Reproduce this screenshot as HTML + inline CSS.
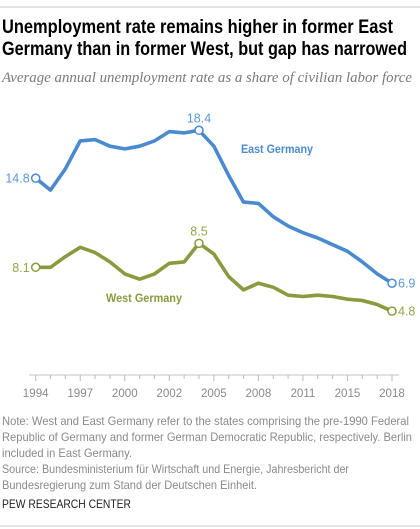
<!DOCTYPE html>
<html><head><meta charset="utf-8">
<style>
html,body{margin:0;padding:0;background:#fff;}
body{width:420px;height:529px;overflow:hidden;position:relative;font-family:"Liberation Sans",Arial,sans-serif;}
svg{position:absolute;left:0;top:0;}
</style></head>
<body>
<svg width="420" height="529" viewBox="0 0 420 529" id="chart">
  <line x1="0" y1="7" x2="420" y2="7" stroke="#c8c8c8" stroke-width="1"/>
  <text x="2" y="33" font-size="19" font-weight="bold" fill="#000" textLength="391" lengthAdjust="spacingAndGlyphs">Unemployment rate remains higher in former East</text>
  <text x="2" y="55" font-size="19" font-weight="bold" fill="#000" textLength="405" lengthAdjust="spacingAndGlyphs">Germany than in former West, but gap has narrowed</text>
  <text x="2" y="82" font-size="14.6" font-style="italic" fill="#7a7a7a" font-family="Liberation Serif, serif" textLength="410" lengthAdjust="spacingAndGlyphs">Average annual unemployment rate as a share of civilian labor force</text>
  <g id="axis"></g>
  <g id="series"></g>
  <text x="241" y="153" font-size="12" font-weight="bold" fill="#4a8bd0" textLength="72" lengthAdjust="spacingAndGlyphs">East Germany</text>
  <text x="106" y="302" font-size="12" font-weight="bold" fill="#8b9a3f" textLength="76" lengthAdjust="spacingAndGlyphs">West Germany</text>
  <g font-size="11.6" fill="#8a8a8a">
    <text x="2" y="425" textLength="407" lengthAdjust="spacingAndGlyphs">Note: West and East Germany refer to the states comprising the pre-1990 Federal</text>
    <text x="2" y="441" textLength="410" lengthAdjust="spacingAndGlyphs">Republic of Germany and former German Democratic Republic, respectively. Berlin</text>
    <text x="2" y="457" textLength="130" lengthAdjust="spacingAndGlyphs">included in East Germany.</text>
    <text x="2" y="473" textLength="347" lengthAdjust="spacingAndGlyphs">Source: Bundesministerium für Wirtschaft und Energie, Jahresbericht der</text>
    <text x="2" y="489" textLength="255" lengthAdjust="spacingAndGlyphs">Bundesregierung zum Stand der Deutschen Einheit.</text>
  </g>
  <text x="2" y="508" font-size="12" fill="#222" textLength="129" lengthAdjust="spacingAndGlyphs">PEW RESEARCH CENTER</text>
  <line x1="0" y1="526" x2="420" y2="526" stroke="#c8c8c8" stroke-width="1"/>
</svg>
<script>
const years = [1994,1995,1996,1997,1998,1999,2000,2001,2002,2003,2004,2005,2006,2007,2008,2009,2010,2011,2012,2013,2014,2015,2016,2017,2018];
const eastValues = [14.8,13.9,15.5,17.6,17.7,17.2,17.0,17.2,17.6,18.3,18.2,18.4,17.2,15.0,13.0,12.9,11.9,11.2,10.7,10.3,9.8,9.3,8.5,7.6,6.9];
const westValues = [8.1,8.1,8.9,9.6,9.2,8.5,7.6,7.2,7.6,8.4,8.5,9.9,9.1,7.4,6.4,6.9,6.6,6.0,5.9,6.0,5.9,5.7,5.6,5.3,4.8];
const tickLabels = ["1994","1997","2000","2002","2005","2008","2011","2015","2018"];
const eastLabels = ["14.8","18.4","6.9"];
const westLabels = ["8.1","8.5","4.8"];

const NS = "http://www.w3.org/2000/svg";
const x0 = 35.7, dx = (392 - 35.7) / (years.length - 1);
function xScale(i){ return x0 + i * dx; }
function yScale(v){ return 375 - v * 13.3; }
function mk(tag, attrs, parent){
  const e = document.createElementNS(NS, tag);
  for (const k in attrs) e.setAttribute(k, attrs[k]);
  parent.appendChild(e);
  return e;
}
const axis = document.getElementById('axis');
const axisLine = mk('line',{x1:29,y1:yScale(0),x2:399,y2:yScale(0),stroke:'#cfcfcf','stroke-width':1.3},axis);


years.forEach((y,i)=>{
  const major = i % 3 === 0;
  const t = mk('line',{x1:xScale(i),y1:yScale(0),x2:xScale(i),y2:yScale(0)+(major?6:4),stroke:'#bbb','stroke-width':1},axis);
  
  
  if (major){
    const lbl = mk('text',{x:xScale(i),y:yScale(0)+22,'text-anchor':'middle','font-size':11.6,fill:'#8a8a8a'},axis);
    lbl.textContent = tickLabels[i/3];
    
    
  }
});
const series = document.getElementById('series');
function drawSeries(vals, color, labelColor, labels, name){
  const pts = vals.map((v,i)=>xScale(i).toFixed(1)+','+yScale(v).toFixed(1)).join(' ');
  const line = mk('polyline',{points:pts,fill:'none',stroke:color,'stroke-width':3.6,'stroke-linejoin':'round','stroke-linecap':'round'},series);
  
  
  let peak = 0;
  vals.forEach((v,i)=>{ if (v > vals[peak]) peak = i; });
  const idx = [0, peak, vals.length-1];
  idx.forEach((i,k)=>{
    const c = mk('circle',{cx:xScale(i),cy:yScale(vals[i]),r:4,fill:'#fff',stroke:color,'stroke-width':1.5},series);
    
    
    let a;
    if (k===0) a = {x:xScale(i)-6,y:yScale(vals[i])+4.5,'text-anchor':'end'};
    else if (k===1) a = {x:xScale(i),y:yScale(vals[i])-8,'text-anchor':'middle'};
    else a = {x:xScale(i)+6,y:yScale(vals[i])+4.5,'text-anchor':'start'};
    a['font-size'] = 12.5; a.fill = labelColor;
    const t = mk('text',a,series);
    t.textContent = labels[k];
    
    
  });
}
drawSeries(eastValues,'#4a8bd0','#5b97d6',eastLabels,'east-germany');
drawSeries(westValues,'#8b9a3f','#97a348',westLabels,'west-germany');
</script>
</body></html>
